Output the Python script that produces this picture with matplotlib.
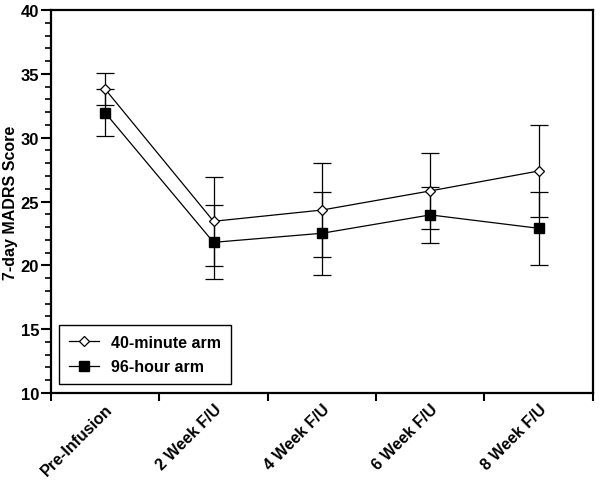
import matplotlib
matplotlib.use("Agg")
import matplotlib.pyplot as plt
from matplotlib.ticker import MultipleLocator, FixedLocator
from matplotlib.lines import Line2D

plt.rcParams['font.family'] = ['Liberation Sans', 'DejaVu Sans']
plt.rcParams['font.weight'] = 'bold'

categories = ["Pre-Infusion", "2 Week F/U", "4 Week F/U", "6 Week F/U", "8 Week F/U"]
arm40_mean = [33.8, 23.45, 24.33, 25.83, 27.39]
arm40_err = [1.27, 3.5, 3.66, 2.97, 3.58]
arm96_mean = [31.95, 21.8, 22.51, 23.95, 22.9]
arm96_err = [1.83, 2.9, 3.26, 2.22, 2.84]

fig = plt.figure(figsize=(6.0, 4.81), dpi=100)
ax = fig.add_axes([0.085, 0.181, 0.903, 0.796])

x = list(range(len(categories)))

ax.errorbar(x, arm96_mean, yerr=arm96_err, color='black', lw=0.9, elinewidth=0.9,
            capsize=6.5, capthick=0.9, marker='s', markersize=7, mfc='black', mec='black',
            zorder=3)
ax.errorbar(x, arm40_mean, yerr=arm40_err, color='black', lw=0.9, elinewidth=0.9,
            capsize=6.5, capthick=0.9, marker='D', markersize=4.8, mfc='white', mec='black',
            mew=0.9, zorder=4)

ax.set_xlim(-0.5, len(categories) - 0.5)
ax.set_ylim(10, 40)
ax.yaxis.set_major_locator(MultipleLocator(5))
ax.yaxis.set_minor_locator(MultipleLocator(1))
ax.xaxis.set_major_locator(FixedLocator([i - 0.5 for i in range(len(categories) + 1)]))
ax.xaxis.set_minor_locator(FixedLocator(x))
ax.set_xticklabels([])
ax.set_xticklabels(categories, minor=True, rotation=45, ha='right', rotation_mode='anchor',
                   fontsize=11.5, fontweight='bold')
ax.tick_params(axis='x', which='minor', length=0, pad=6)
ax.tick_params(axis='x', which='major', length=6, width=1.5, direction='out')
ax.tick_params(axis='y', which='major', length=7, width=1.5, direction='out', labelsize=12, pad=1.5)
ax.tick_params(axis='y', which='minor', length=4, width=1.2, direction='out')
for lab in ax.get_yticklabels():
    lab.set_fontweight('bold')

for s in ax.spines.values():
    s.set_linewidth(1.6)

ax.set_ylabel("7-day MADRS Score", fontsize=11.5, fontweight='bold')
ax.yaxis.set_label_coords(-0.06, 0.5)

h40 = Line2D([], [], color='black', lw=0.9, marker='D', markersize=4.8, mfc='white', mec='black', mew=0.9)
h96 = Line2D([], [], color='black', lw=0.9, marker='s', markersize=7, mfc='black', mec='black')
leg = ax.legend([h40, h96], ['40-minute arm', '96-hour arm'], loc='lower left',
                bbox_to_anchor=(0.015, 0.0235), borderaxespad=0,
                frameon=True, fancybox=False, edgecolor='black', framealpha=1,
                prop={'weight': 'bold', 'size': 11.5}, handlelength=1.9, borderpad=0.6,
                labelspacing=0.6, handletextpad=0.75)
leg.get_frame().set_linewidth(1.0)

fig.savefig("out.png", dpi=100)
